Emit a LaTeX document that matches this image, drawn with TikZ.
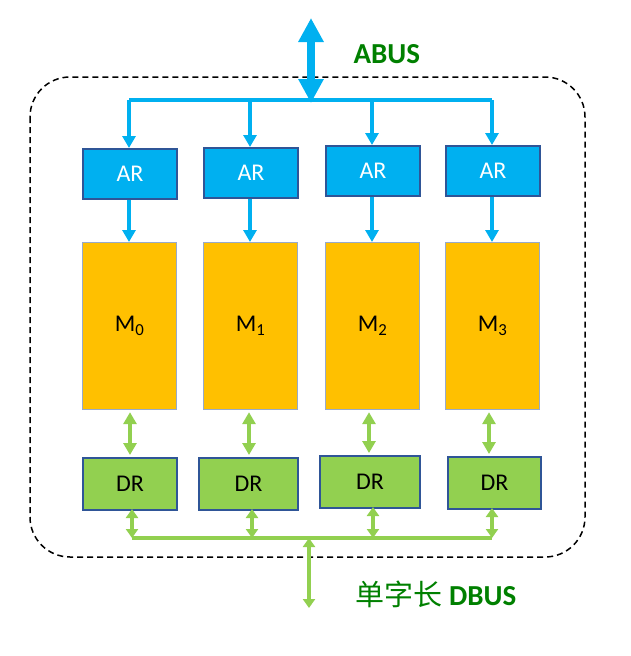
\documentclass[tikz,border=0pt]{standalone}
\usepackage{fontspec}
\setmainfont{Carlito}
\newfontfamily\cjk{Noto Sans CJK SC}
\usetikzlibrary{arrows.meta}
\definecolor{sky}{HTML}{00B0F0}
\definecolor{gold}{HTML}{FFC000}
\definecolor{lgreen}{HTML}{92D050}
\definecolor{dgreen}{HTML}{008000}
\definecolor{edge}{HTML}{2F5597}
\begin{document}
\begin{tikzpicture}[x=1pt,y=-1pt,
 box/.style={draw=edge,line width=2pt,minimum width=94pt,anchor=north west,inner sep=0pt,font=\fontsize{24}{24}\selectfont},
 ar/.style={box,fill=sky,text=white,minimum height=50pt},
 mm/.style={box,fill=gold,draw=edge!50,line width=1.2pt,minimum height=167pt},
 dr/.style={box,fill=lgreen,minimum height=52pt},
 ba/.style={sky,line width=3.5pt,-{Triangle[width=13pt,length=12pt]}},
 ga/.style={lgreen,line width=3.5pt,{Triangle[width=13pt,length=12pt]}-{Triangle[width=13pt,length=12pt]}},
 gs/.style={lgreen,line width=3.5pt,{Triangle[width=12pt,length=9pt]}-{Triangle[width=12pt,length=9pt]}}]
\useasboundingbox (0,0) rectangle (630,656);
\draw[dash pattern=on 6pt off 4pt,line width=1.5pt,rounded corners=40pt] (30,77) rectangle (585,557);
% ABUS
\draw[sky,line width=8pt,{Triangle[width=24pt,length=24pt]}-{Triangle[width=24pt,length=24pt]}] (311,18) -- (311,103);
\node[font=\bfseries\fontsize{29}{29}\selectfont,text=dgreen,anchor=west] (abus) at (350,54) {ABUS};
\coordinate (bl) at (129,100); \coordinate (br) at (492,100);
\draw[sky,line width=4pt] (bl) -- (br);
% boxes
\node[ar] (a0) at (82,148) {AR};
\node[ar] (a1) at (203,147) {AR};
\node[ar] (a2) at (325,145) {AR};
\node[ar] (a3) at (445,145) {AR};
\foreach \i/\x in {0/82,1/203,2/325,3/445}{
 \node[mm] (m\i) at (\x,242) {M\textsubscript{\i}};
}
\node[dr] (d0) at (82,457) {DR};
\node[dr,minimum width=99pt] (d1) at (198,457) {DR};
\node[dr,minimum width=100pt] (d2) at (319,455) {DR};
\node[dr,minimum width=93pt] (d3) at (447,456) {DR};
% top bus drops
\foreach \i/\x in {0/129,1/250,2/372,3/492}{
 \coordinate (t\i) at (\x,100);
 \draw[ba] (t\i) -- (t\i |- a\i.north);
 \draw[ba] (a\i.south -| t\i) -- (t\i |- m\i.north);
}
\foreach \i/\x in {0/130,1/249,2/369,3/489}{
 \draw[ga] ([yshift=-2pt]m\i.south -| \x,0) -- ([yshift=2pt]d\i.north -| \x,0);
}
% DBUS
\coordinate (dl) at (132,538); \coordinate (dr) at (492,538);
\draw[lgreen,line width=3.5pt] (dl) -- (dr);
\foreach \i/\x in {0/132,1/252,2/373,3/492}{
 \coordinate (b\i) at (\x,538);
 \draw[gs] ([yshift=2pt]d\i.south -| b\i) -- (b\i);
}
\coordinate (dm) at (309,538); \coordinate (de) at (309,608);
\draw[gs] (dm) -- (de);
\node[anchor=west,text=dgreen,font=\fontsize{29}{29}\selectfont] (dbus) at (352,594) {{\cjk 单字长} \textbf{DBUS}};
\end{tikzpicture}
\end{document}
